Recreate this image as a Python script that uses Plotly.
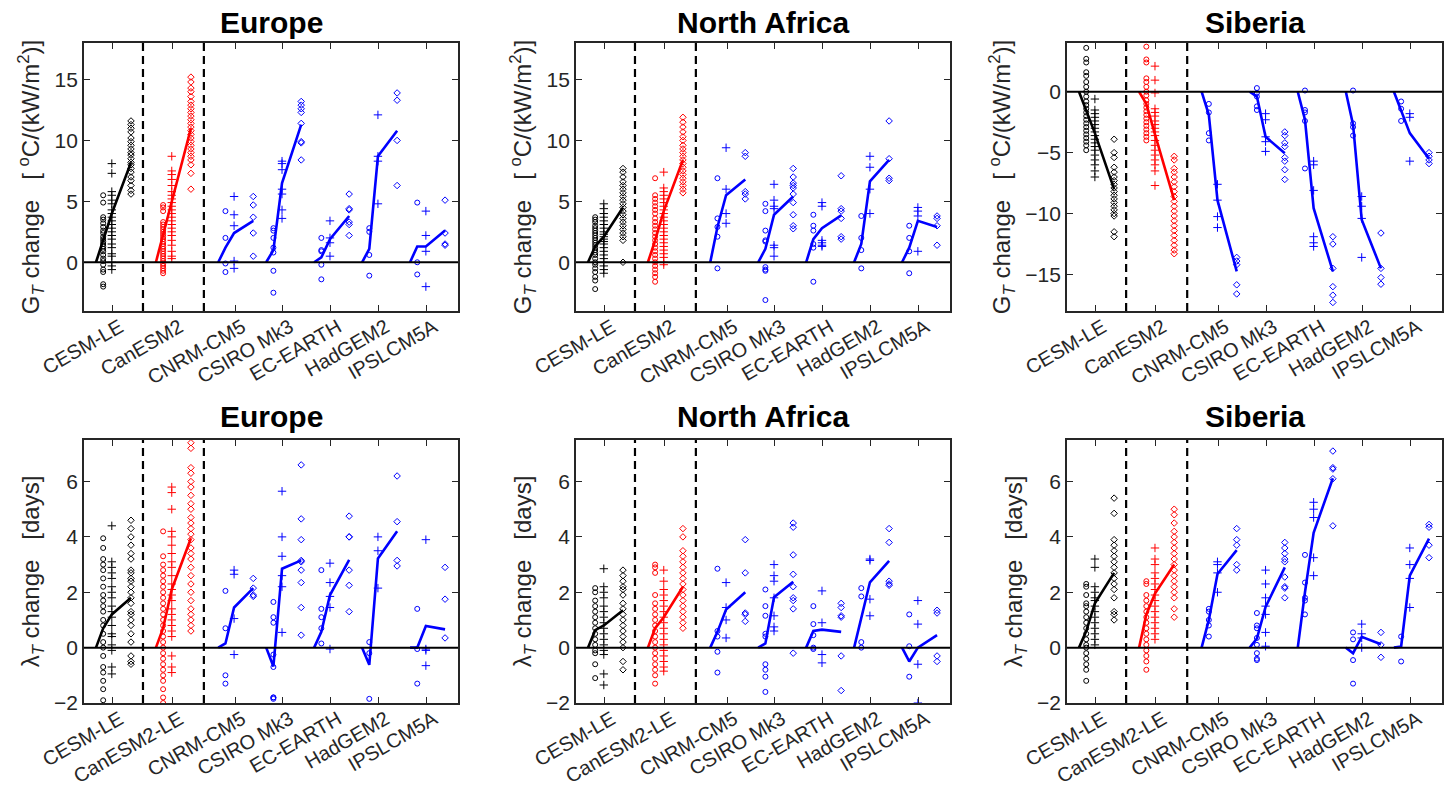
import plotly.graph_objects as go

# ---------- labels ----------
MODELS_G = ["CESM-LE", "CanESM2", "CNRM-CM5", "CSIRO Mk3", "EC-EARTH", "HadGEM2", "IPSLCM5A"]
MODELS_L = ["CESM-LE", "CanESM2-LE", "CNRM-CM5", "CSIRO Mk3", "EC-EARTH", "HadGEM2", "IPSLCM5A"]
REGIONS = ["Europe", "North Africa", "Siberia"]

# ---------- data: every model = [circles, plus, diamonds] ----------
# ---- Europe, G_T ----
eur_g_cesm = [[5.5, 4.9, 3.7, 3.5, 3.2, 2.9, 2.6, 2.4, 2.1, 1.9, 1.7, 1.5, 1.3, 1.1, 0.9, 0.6, 0.3, 0.1, -0.2, -0.6, -0.8, -1.8, -2.0],
              [8.1, 7.3, 5.8, 5.5, 5.1, 4.8, 4.3, 4.0, 3.7, 3.4, 3.1, 2.8, 2.5, 2.2, 1.9, 1.5, 1.2, 0.7, 0.5, 0.0, -0.3, -0.6],
              [11.6, 11.3, 11.0, 10.7, 10.2, 9.9, 9.6, 9.3, 9.0, 8.8, 8.5, 8.2, 8.0, 7.7, 7.4, 7.0, 6.7, 6.3, 5.9, 5.6]]
eur_g_canesm = [[4.7, 4.5, 4.2, 3.3, 3.1, 2.9, 2.7, 2.5, 2.3, 2.1, 1.9, 1.7, 1.5, 1.3, 1.1, 0.9, 0.7, 0.5, 0.3, 0.1, -0.1, -0.3, -0.5, -0.7, -0.9],
                [8.7, 7.5, 7.2, 6.8, 6.3, 5.8, 5.5, 5.2, 4.9, 4.6, 4.3, 4.0, 3.7, 3.4, 3.1, 2.8, 2.5, 2.2, 1.8, 1.4, 0.9, 0.5, 0.3],
                [15.2, 14.8, 14.3, 14.0, 13.6, 13.2, 12.9, 12.6, 12.3, 12.0, 11.7, 11.4, 11.1, 10.8, 10.5, 10.2, 9.9, 9.6, 9.3, 9.0, 8.7, 8.4, 8.0, 7.3, 6.0]]
eur_g_cnrm = [[4.2, 2.0, -0.1, -0.8], [5.4, 3.9, 3.0, 0.1, -0.5], [5.4, 4.7, 3.7, 2.4, 0.5]]
eur_g_csiro = [[2.8, 2.6, 2.0, 1.2, 0.8, -0.7, -2.5], [8.3, 8.1, 7.6, 6.0, 5.6, 4.3, 3.6], [13.2, 12.9, 12.6, 12.3, 11.4, 9.9, 9.8, 8.4]]
eur_g_ec = [[2.0, 1.0, 0.9, -0.2, -1.4], [3.4, 2.0, 1.6, 0.5], [5.6, 4.4, 4.3, 3.3, 3.1, 2.2]]
eur_g_had = [[2.8, 2.5, 0.6, -1.1], [12.1, 8.7, 8.3, 4.8], [13.9, 13.3, 10.0, 6.3]]
eur_g_ipsl = [[4.9, 0.0, -1.0], [4.2, 2.2, 0.9, -2.0], [5.1, 2.4, 1.5, 1.4]]
eur_g_mean = [[1.9, 4.0, 8.2], [2.3, 4.9, 11.0], [1.2, 2.4, 3.4], [1.0, 6.5, 11.3],
              [0.4, 1.9, 3.8], [1.1, 8.7, 10.8], [1.3, 1.3, 2.6]]

# ---- Europe, lambda_T ----
eur_l_cesm = [[3.95, 3.6, 3.2, 3.0, 2.8, 2.5, 2.2, 1.9, 1.7, 1.5, 1.3, 1.0, 0.8, 0.5, 0.2, 0.0, -0.3, -0.7, -0.9, -1.2, -1.5, -1.9],
              [4.4, 3.1, 2.9, 2.7, 2.5, 2.2, 2.0, 1.8, 1.5, 1.3, 1.1, 0.8, 0.5, 0.4, 0.1, -0.1, -0.7, -0.95],
              [4.6, 4.3, 4.0, 3.7, 3.4, 3.2, 2.8, 2.7, 2.5, 2.4, 2.2, 2.0, 1.8, 1.6, 1.3, 1.2, 1.0, 0.8, 0.5, 0.2, -0.3, -0.5, -0.6]]
eur_l_canesm = [[4.2, 3.3, 3.0, 2.8, 2.6, 2.4, 2.2, 2.0, 1.8, 1.6, 1.4, 1.2, 1.0, 0.8, 0.6, 0.4, 0.2, 0.0, -0.2, -0.4, -0.6, -0.8, -1.0, -1.2, -1.5, -1.8, -2.0],
                [5.8, 5.6, 5.0, 4.2, 4.0, 3.7, 3.4, 3.1, 2.9, 2.6, 2.3, 2.1, 1.9, 1.7, 1.4, 1.2, 1.0, 0.8, 0.6, 0.4, -0.3, -0.7, -0.9],
                [7.4, 7.2, 6.5, 6.3, 6.0, 5.8, 5.5, 5.2, 5.0, 4.7, 4.5, 4.3, 4.1, 3.9, 3.6, 3.4, 3.2, 2.9, 2.6, 2.3, 2.0, 1.7, 1.4, 1.2, 1.0, 0.8, 0.6]]
eur_l_cnrm = [[2.05, 0.7, -1.0, -1.3], [2.8, 2.65, 1.05, -0.25], [2.5, 2.15, 1.9, 1.85]]
eur_l_csiro = [[1.65, 1.1, 0.9, -0.25, -0.7, -1.8, -1.8, -1.85], [5.65, 4.0, 3.3, 2.6, 2.2, 0.55],
               [6.6, 4.65, 3.9, 3.15, 3.1, 2.8, 2.35, 1.45, 0.45]]
eur_l_ec = [[2.8, 1.4, 1.1, 0.7, 0.15], [3.05, 2.35, 1.85, 1.45, -0.05], [4.75, 4.0, 4.0, 2.8, 2.25, 1.3]]
eur_l_had = [[0.2, -0.2, -1.85], [4.0, 3.5, 2.15], [6.2, 4.55, 3.15, 2.95]]
eur_l_ipsl = [[1.4, -0.05, -1.3], [3.9, -0.05, -0.1, -0.65], [2.9, 1.75, 0.35]]
eur_l_mean = [[0.7, 1.2, 1.8], [0.7, 2.1, 3.95], [0.15, 1.45, 2.15], [-0.68, 2.85, 3.15],
              [0.57, 1.9, 3.17], [-0.62, 3.22, 4.2], [0.0, 0.78, 0.66]]

# ---- North Africa, G_T ----
naf_g_cesm = [[3.7, 3.5, 3.3, 3.0, 2.8, 2.6, 2.4, 2.2, 2.0, 1.8, 1.6, 1.4, 1.2, 1.0, 0.8, 0.6, 0.3, 0.0, -0.2, -0.5, -0.8, -1.2, -1.5, -2.2],
              [4.8, 4.4, 4.0, 3.7, 3.4, 3.1, 2.8, 2.5, 2.3, 2.1, 1.9, 1.7, 1.5, 1.2, 0.9, 0.6, 0.3, 0.0, -0.3, -0.6, -0.9],
              [7.7, 7.4, 7.0, 6.6, 6.3, 6.0, 5.7, 5.4, 5.1, 4.8, 4.5, 4.2, 3.9, 3.6, 3.3, 3.0, 2.7, 2.4, 2.1, 1.8, 0.0]]
naf_g_canesm = [[6.9, 5.5, 5.2, 4.9, 4.6, 4.3, 4.0, 3.6, 3.3, 3.0, 2.7, 2.4, 2.1, 1.8, 1.5, 1.2, 0.9, 0.6, 0.3, 0.0, -0.3, -0.6, -0.9, -1.2, -1.6],
                [7.4, 6.1, 5.8, 5.5, 5.2, 4.9, 4.6, 4.3, 4.0, 3.7, 3.4, 3.1, 2.8, 2.5, 2.2, 1.9, 1.6, 1.3, 1.0, 0.7, 0.4, 0.0, -0.2],
                [11.9, 11.5, 11.1, 10.7, 10.3, 10.0, 9.6, 9.3, 9.0, 8.7, 8.4, 8.1, 7.8, 7.5, 7.2, 6.9, 6.6, 6.3, 6.0, 5.7]]
naf_g_cnrm = [[6.9, 3.6, 2.9, 2.1, -0.5], [9.4, 6.0, 4.0, 3.2], [9.0, 8.7, 5.8, 5.6, 5.2]]
naf_g_csiro = [[4.8, 4.2, 2.6, 1.8, 1.7, -0.4, -0.6, -0.7, -3.1], [6.4, 5.1, 4.6, 4.4, 1.4, 1.2, 0.5],
               [7.7, 7.0, 6.5, 6.3, 6.1, 5.6, 4.9, 3.9, 3.0, 2.75]]
naf_g_ec = [[3.9, 3.0, 2.6, 1.5, 1.2, -1.6], [4.9, 4.6, 1.8, 1.6, 1.4, 1.3], [7.1, 4.4, 4.2, 3.6, 2.1, 1.9]]
naf_g_had = [[3.8, 2.0, 1.0, -0.5], [8.7, 7.8, 6.0, 4.0], [11.6, 8.5, 6.9, 6.7]]
naf_g_ipsl = [[3.0, 2.0, 0.9, -0.9], [4.5, 4.2, 3.8, 0.9], [3.8, 3.6, 3.0, 1.4]]
naf_g_mean = [[1.3, 2.1, 4.5], [1.8, 4.2, 8.4], [2.9, 5.5, 6.8], [1.1, 3.9, 5.4],
              [1.9, 2.8, 3.85], [1.5, 6.65, 8.4], [1.2, 3.4, 2.9]]

# ---- North Africa, lambda_T ----
naf_l_cesm = [[2.15, 2.0, 1.7, 1.5, 1.3, 1.1, 0.9, 0.7, 0.5, 0.3, 0.1, -0.1, -0.2, -0.6, -1.1],
              [2.85, 2.2, 2.0, 1.8, 1.5, 1.3, 1.1, 0.9, 0.7, 0.5, 0.3, 0.1, -0.1, -0.25, -0.95, -1.35],
              [2.8, 2.6, 2.4, 2.2, 2.1, 1.9, 1.6, 1.4, 1.2, 1.0, 0.8, 0.6, 0.4, 0.2, 0.0, -0.5, -0.8]]
naf_l_canesm = [[3.0, 2.9, 2.7, 1.9, 1.6, 1.4, 1.2, 1.0, 0.8, 0.6, 0.4, 0.2, 0.0, -0.2, -0.4, -0.6, -0.8, -1.0, -1.3],
                [2.8, 2.4, 2.1, 1.9, 1.7, 1.5, 1.3, 1.1, 0.9, 0.7, 0.5, 0.3, 0.1, -0.1, -0.3, -0.5, -0.7, -0.85],
                [4.3, 4.0, 3.5, 3.3, 3.1, 2.9, 2.7, 2.5, 2.3, 2.1, 1.9, 1.7, 1.5, 1.3, 1.1, 0.9, 0.7]]
naf_l_cnrm = [[2.85, 0.6, 0.4, -0.15, -0.9], [2.35, 1.45, 1.0, 0.35], [3.9, 2.7, 1.25, 1.2, 0.95]]
naf_l_csiro = [[2.1, 1.5, 1.15, 0.5, 0.4, -0.6, -0.8, -1.05, -1.6], [3.0, 2.6, 2.4, 1.8, 1.15, 0.75, 0.6],
               [4.5, 4.35, 3.35, 2.65, 2.2, 1.8, 1.7, 1.4, -0.2]]
naf_l_ec = [[1.5, 0.85, 0.45, 0.0, -0.05], [2.05, 0.9, -0.25, -0.55], [1.6, 1.45, 1.15, 1.1, -0.3, -1.55]]
naf_l_had = [[2.15, 1.85, 0.2, 0.0], [3.2, 3.15, 1.75, 1.15], [4.3, 3.8, 2.4, 2.3, 2.25]]
naf_l_ipsl = [[1.2, 0.05, -1.05], [1.7, 0.85, -0.6, -2.0], [1.35, 1.25, -0.3, -0.5]]
naf_l_mean = [[0.63, 0.8, 1.35], [0.7, 1.1, 2.2], [0.57, 1.38, 2.0], [0.15, 1.82, 2.38],
              [0.6, 0.65, 0.57], [1.1, 2.36, 3.13], [-0.5, 0.0, 0.45]]

# ---- Siberia, G_T ----
sib_g_cesm = [[3.6, 2.7, 2.4, 1.6, 1.3, 0.8, 0.4, 0.0, -0.4, -0.8, -1.1, -1.4, -1.7, -2.0, -2.3, -2.6, -2.9, -3.2, -3.5, -3.8, -4.1, -4.4, -4.8],
              [-0.6, -1.5, -1.8, -2.1, -2.4, -2.7, -3.0, -3.3, -3.6, -3.9, -4.2, -4.5, -4.8, -5.2, -5.6, -6.0, -6.5, -7.0],
              [-3.9, -5.0, -5.4, -6.2, -6.6, -7.0, -7.3, -7.6, -7.9, -8.2, -8.5, -8.8, -9.1, -9.4, -9.7, -10.0, -10.2, -11.5, -11.9]]
sib_g_canesm = [[3.7, 2.65, 2.4, 1.1, 0.8, 0.4, 0.0, -0.3, -0.7, -1.0, -1.3, -1.6, -1.9, -2.2, -2.5, -2.8, -3.1, -3.4, -3.7, -4.0],
                [2.1, 0.95, -0.1, -1.4, -1.7, -2.0, -2.4, -2.7, -3.0, -3.3, -3.6, -4.0, -4.4, -4.8, -5.2, -5.6, -6.0, -6.5, -7.7],
                [-5.3, -5.6, -6.3, -6.6, -7.0, -7.4, -7.8, -8.2, -8.6, -9.0, -9.4, -9.8, -10.2, -10.6, -11.0, -11.4, -11.8, -12.2, -12.6, -13.0, -13.3]]
sib_g_cnrm = [[-1.0, -1.7, -3.4, -4.0], [-7.6, -8.9, -10.25, -11.15], [-13.6, -13.9, -14.2, -15.85, -16.6]]
sib_g_csiro = [[0.3, -0.1, -0.4, -1.2, -1.5], [-1.8, -2.3, -3.7, -4.1, -4.9], [-3.3, -3.6, -4.2, -4.5, -5.4, -5.7, -6.4, -7.2]]
sib_g_ec = [[0.1, -1.5, -1.7, -2.4, -6.3], [-5.7, -6.0, -8.1, -11.9, -12.4, -12.7], [-11.9, -12.5, -14.5, -16.0, -16.7, -17.3]]
sib_g_had = [[0.1, -2.6, -2.9, -3.6], [-8.6, -9.4, -10.4, -13.6], [-11.6, -14.5, -15.25, -15.8]]
sib_g_ipsl = [[-0.8, -1.4, -2.4], [-1.8, -2.1, -5.7], [-5.0, -5.3, -5.6, -5.9]]
sib_g_mean = [[-1.6, -3.4, -8.0], [-1.0, -3.5, -8.9], [-1.9, -8.9, -14.75], [-0.4, -3.7, -5.05],
              [-2.3, -9.56, -14.75], [-2.7, -10.5, -14.5], [-1.5, -3.4, -5.5]]

# ---- Siberia, lambda_T ----
sib_l_cesm = [[2.3, 2.2, 1.9, 1.6, 1.5, 1.3, 1.1, 0.9, 0.7, 0.5, 0.3, 0.1, 0.0, -0.2, -0.4, -0.6, -0.8, -1.2],
              [3.2, 2.9, 2.2, 2.0, 1.8, 1.7, 1.5, 1.3, 1.1, 0.9, 0.7, 0.5, 0.3, 0.1],
              [5.4, 4.85, 3.9, 3.7, 3.5, 3.3, 3.1, 2.9, 2.7, 2.5, 2.3, 2.1, 1.8, 1.3, 1.2, 1.0]]
sib_l_canesm = [[2.4, 2.3, 1.9, 1.7, 1.5, 1.3, 1.1, 0.9, 0.7, 0.5, 0.3, 0.1, -0.1, -0.3, -0.5, -0.8],
                [3.6, 3.2, 3.0, 2.7, 2.5, 2.3, 2.1, 1.9, 1.7, 1.5, 1.3, 1.1, 0.9, 0.7, 0.5, 0.3],
                [5.0, 4.8, 4.5, 4.2, 4.0, 3.8, 3.6, 3.4, 3.2, 3.0, 2.8, 2.6, 2.4, 2.2, 2.0, 1.8, 1.4, 1.1]]
sib_l_cnrm = [[1.4, 1.3, 1.0, 0.8, 0.4], [3.1, 3.0, 2.7, 2.0], [4.3, 3.9, 3.7, 3.0, 2.8]]
sib_l_csiro = [[1.25, 0.8, 0.7, 0.35, 0.1, -0.2, -0.4, -0.45], [2.8, 2.3, 1.8, 1.5, 1.2, 0.55, 0.05],
               [3.8, 3.6, 3.4, 3.2, 3.1, 2.55, 2.2, 2.15, 1.8]]
sib_l_ec = [[3.35, 2.35, 1.8, 1.7, 1.2], [5.25, 5.0, 4.7, 3.25, 2.6], [7.1, 6.5, 6.45, 6.1, 4.4]]
sib_l_had = [[0.55, 0.3, -0.45, -1.3], [0.85, 0.5, 0.35, 0.0], [0.55, 0.1, -0.35]]
sib_l_ipsl = [[0.4, -0.5], [3.6, 3.0, 2.5, 1.45], [4.45, 4.35, 3.7, 3.25]]
sib_l_mean = [[0.6, 1.6, 2.7], [1.2, 1.95, 3.0], [1.0, 2.66, 3.52], [0.33, 1.47, 2.9],
              [2.0, 4.15, 6.12], [-0.2, 0.39, 0.12], [0.04, 2.6, 3.94]]

# ---------- layout constants ----------
W, H = 1447, 788
GROUP_START = [0.25, 1.5, 2.8, 3.8, 4.8, 5.8, 6.8]   # where each model's line starts (value 0)
COL_OFFSET = [0.15, 0.33, 0.73]                       # o, +, diamond columns
TICK_OFFSET = 0.35
DIVIDERS = [1.23, 2.5]
XRANGE = [0, 7.8]
XDOM = [[84 / W, 458 / W], [576 / W, 950 / W], [1067 / W, 1442 / W]]
YDOM = [[1 - 311 / H, 1 - 43 / H], [1 - 703 / H, 1 - 440 / H]]
TITLE_Y = [1 - 22 / H, 1 - 416 / H]
SYMBOLS = ["circle-open", "cross-thin-open", "diamond-open"]
SIZES = [5, 6, 5]
FONT = "Liberation Sans, Arial, sans-serif"
AXC = "#262626"

YT_G = "G<sub><i>T</i></sub> change\u00a0\u00a0\u00a0[\u00a0<sup>o</sup>C/(kW/m<sup>2</sup>)]"
YT_L = "\u03bb<sub><i>T</i></sub> change\u00a0\u00a0\u00a0[days]"

panels = [
    # row, col, models data, means, y range, y ticks, y title, tick labels
    (0, 0, [eur_g_cesm, eur_g_canesm, eur_g_cnrm, eur_g_csiro, eur_g_ec, eur_g_had, eur_g_ipsl], eur_g_mean,
     [-4, 18], [0, 5, 10, 15], YT_G, MODELS_G),
    (0, 1, [naf_g_cesm, naf_g_canesm, naf_g_cnrm, naf_g_csiro, naf_g_ec, naf_g_had, naf_g_ipsl], naf_g_mean,
     [-4, 18], [0, 5, 10, 15], YT_G, MODELS_G),
    (0, 2, [sib_g_cesm, sib_g_canesm, sib_g_cnrm, sib_g_csiro, sib_g_ec, sib_g_had, sib_g_ipsl], sib_g_mean,
     [-18, 4], [-15, -10, -5, 0], YT_G, MODELS_G),
    (1, 0, [eur_l_cesm, eur_l_canesm, eur_l_cnrm, eur_l_csiro, eur_l_ec, eur_l_had, eur_l_ipsl], eur_l_mean,
     [-2, 7.5], [-2, 0, 2, 4, 6], YT_L, MODELS_L),
    (1, 1, [naf_l_cesm, naf_l_canesm, naf_l_cnrm, naf_l_csiro, naf_l_ec, naf_l_had, naf_l_ipsl], naf_l_mean,
     [-2, 7.5], [-2, 0, 2, 4, 6], YT_L, MODELS_L),
    (1, 2, [sib_l_cesm, sib_l_canesm, sib_l_cnrm, sib_l_csiro, sib_l_ec, sib_l_had, sib_l_ipsl], sib_l_mean,
     [-2, 7.5], [-2, 0, 2, 4, 6], YT_L, MODELS_L),
]

fig = go.Figure()
shapes = []
annotations = []

for row, col, models, means, yrange, yticks, ytitle, labels in panels:
    k = row * 3 + col + 1
    xa = "x" if k == 1 else f"x{k}"
    ya = "y" if k == 1 else f"y{k}"

    for g, (start, members, mean) in enumerate(zip(GROUP_START, models, means)):
        color = "black" if g == 0 else ("red" if g == 1 else "blue")
        for j, vals in enumerate(members):
            fig.add_trace(go.Scatter(
                x=[start + COL_OFFSET[j]] * len(vals), y=vals,
                mode="markers", xaxis=xa, yaxis=ya, showlegend=False, hoverinfo="y",
                marker=dict(symbol=SYMBOLS[j], size=SIZES[j], color=color,
                            line=dict(width=1, color=color)),
            ))
        fig.add_trace(go.Scatter(
            x=[start] + [start + o for o in COL_OFFSET], y=[0] + mean,
            mode="lines", xaxis=xa, yaxis=ya, showlegend=False, hoverinfo="skip",
            line=dict(color=color, width=2.6),
        ))

    axis_common = dict(
        showline=True, linecolor=AXC, linewidth=1.8, mirror="ticks",
        ticks="inside", ticklen=6, tickwidth=1.2, tickcolor=AXC,
        showgrid=False, zeroline=False, automargin=False,
    )
    fig.update_layout({
        f"xaxis{'' if k == 1 else k}": dict(
            axis_common, domain=XDOM[col], range=XRANGE, anchor=ya,
            tickvals=[s + TICK_OFFSET for s in GROUP_START], ticktext=labels,
            tickangle=-30, tickfont=dict(family=FONT, size=20, color=AXC),
            ticklabelshift=7, ticklabelstandoff=-5,
        ),
        f"yaxis{'' if k == 1 else k}": dict(
            axis_common, domain=YDOM[row], range=yrange, anchor=xa,
            tickvals=yticks, tickfont=dict(family=FONT, size=21, color=AXC),
            title=dict(text=ytitle, font=dict(family=FONT, size=24, color=AXC), standoff=8),
        ),
    })

    # zero line and the two ensemble dividers
    shapes.append(dict(type="line", xref=f"{xa} domain", x0=0, x1=1, yref=ya, y0=0, y1=0,
                       line=dict(color="black", width=2)))
    for d in DIVIDERS:
        shapes.append(dict(type="line", xref=xa, x0=d, x1=d, yref=f"{ya} domain", y0=0, y1=1,
                           line=dict(color="black", width=2.2, dash="8px,5px")))

    annotations.append(dict(
        text=f"<b>{REGIONS[col]}</b>", xref="paper", yref="paper",
        x=sum(XDOM[col]) / 2, y=TITLE_Y[row], xanchor="center", yanchor="middle",
        showarrow=False, font=dict(family=FONT, size=30, color="black"),
    ))

fig.update_layout(
    template="none",
    width=W, height=H,
    margin=dict(l=0, r=0, t=0, b=0),
    paper_bgcolor="white", plot_bgcolor="white",
    shapes=shapes, annotations=annotations,
    showlegend=False,
)

fig.write_html("out.html", config={"displayModeBar": False},
               post_script="document.body.style.margin='0';document.body.style.overflow='hidden';")
